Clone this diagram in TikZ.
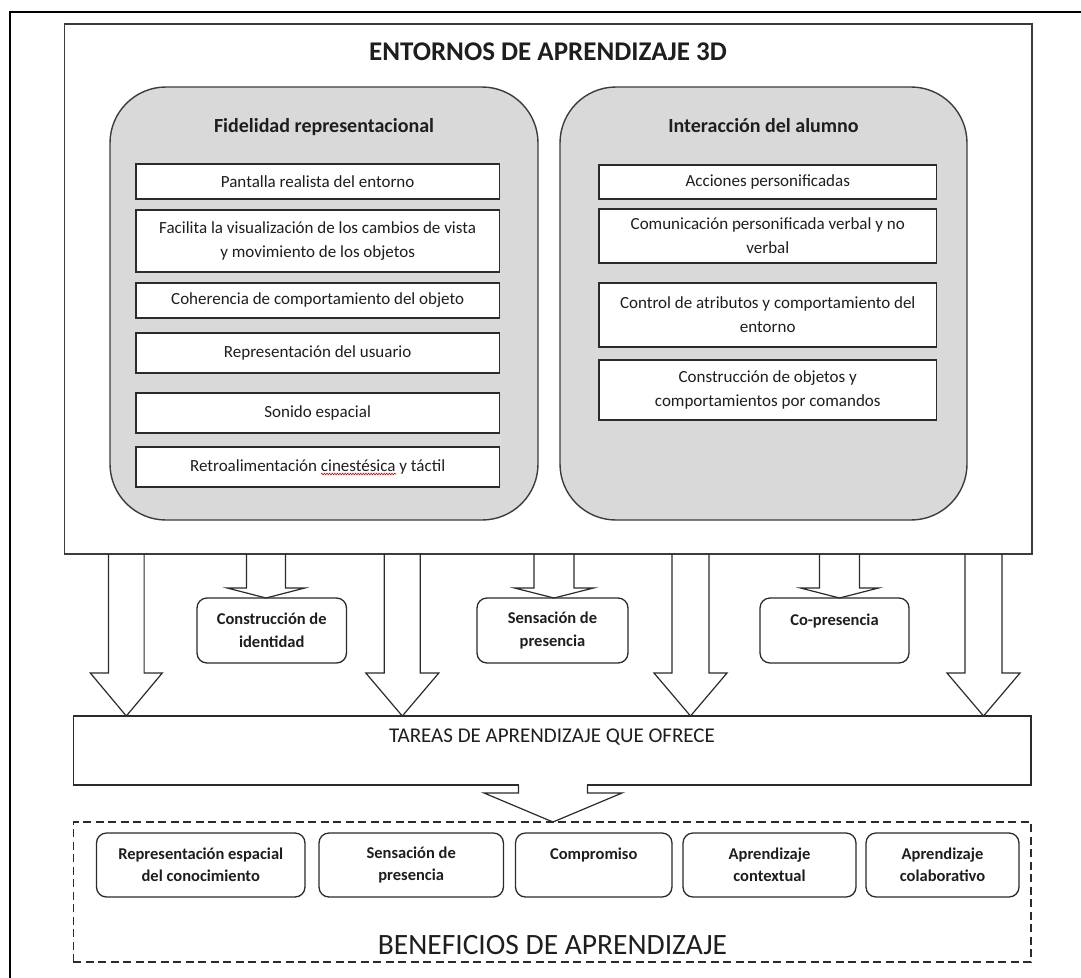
\documentclass[tikz,border=0pt]{standalone}
\usepackage{fontspec}
\setmainfont{Carlito}
\usetikzlibrary{calc,decorations.pathmorphing}
\definecolor{txt}{HTML}{1E1E1E}
\definecolor{bord}{HTML}{2B2B2B}
\definecolor{panelfill}{HTML}{D9D9D9}
\definecolor{panelbord}{HTML}{3C3C3C}
\newcommand{\blkarrow}[7][]{%
  \path[arrowline,#1] let \p1=(#3.south), \p2=(#4.north) in
    (#2-#5,\y1) -- (#2-#5,\y2+#7pt) -- (#2-#6,\y2+#7pt) -- (#2,\y2) --
    (#2+#6,\y2+#7pt) -- (#2+#5,\y2+#7pt) -- (#2+#5,\y1);}
\tikzset{
  boxtxt/.style={font=\fontsize{17}{24}\selectfont, text=txt},
  basebox/.style={inner sep=0pt, outer sep=0pt, anchor=north west, align=center},
  mainbox/.style={basebox, draw=panelbord, line width=1.4pt, fill=white},
  panel/.style={basebox, draw=panelbord, line width=1.4pt, fill=panelfill, rounded corners=56pt},
  wbox/.style={basebox, boxtxt, draw=bord, line width=1.5pt, fill=white},
  sbox/.style={basebox, draw=bord, line width=1.3pt, fill=white, rounded corners=10pt,
    font=\bfseries\fontsize{16.5}{22.5}\selectfont, text=txt},
  dbox/.style={basebox, draw=bord, line width=1.2pt, dash pattern=on 8pt off 4.5pt},
  headtxt/.style={font=\bfseries\fontsize{20}{24}\selectfont, text=txt},
  arrowline/.style={draw=bord, line width=1.2pt, line join=miter},
}
\begin{document}
\begin{tikzpicture}[x=1pt, y=-1pt]
\useasboundingbox (0,0) rectangle (1081,977);
\clip (0,0) rectangle (1081,977);
\fill[white] (0,0) rectangle (1081,977);
% outer frame (continues beyond the picture)
\draw[line width=2.6pt, black] (10,995) -- (10,12) -- (1100,12);

% main box
\node[mainbox, minimum width=967.5, minimum height=530] (main) at (64.5,24) {};
\node[font=\bfseries\fontsize{27}{31}\selectfont, text=txt] (title) at (548,52) {ENTORNOS DE APRENDIZAJE 3D};

% panels
\node[panel, minimum width=428, minimum height=433] (pl) at (110,87) {};
\node[panel, minimum width=407, minimum height=433] (pr) at (560,87) {};
\node[headtxt] (hl) at (324,127) {Fidelidad representacional};
\node[headtxt] (hr) at (763.5,126) {Interacción del alumno};

% left boxes
\node[wbox, minimum width=363.3, minimum height=35] (l1) at (136,164) {Pantalla realista del entorno};
\node[wbox, minimum width=363.3, minimum height=62] (l2) at (136,210) {Facilita la visualización de los cambios de vista\\y movimiento de los objetos};
\node[wbox, minimum width=363.3, minimum height=35] (l3) at (136,283) {Coherencia de comportamiento del objeto};
\node[wbox, minimum width=363.3, minimum height=40] (l4) at (136,333) {Representación del usuario};
\node[wbox, minimum width=363.3, minimum height=40] (l5) at (136,393) {Sonido espacial};
\node[wbox, minimum width=363.3, minimum height=40] (l6) at (136,447) {Retroalimentación cinestésica y táctil};
\draw[red!85!black, line width=0.6pt, decorate, decoration={snake, amplitude=0.8pt, segment length=2.6pt}] (321,474) -- (396,474);

% right boxes
\node[wbox, minimum width=337.5, minimum height=34] (r1) at (599,165) {Acciones personificadas};
\node[wbox, minimum width=337.5, minimum height=54] (r2) at (599,209) {Comunicación personificada verbal y no\\verbal};
\node[wbox, minimum width=337.5, minimum height=64] (r3) at (599,283) {Control de atributos y comportamiento del\\entorno};
\node[wbox, minimum width=337.5, minimum height=60] (r4) at (599,360) {Construcción de objetos y\\comportamientos por comandos};

% middle boxes
\node[sbox, minimum width=149.5, minimum height=65] (m1) at (197,598) {Construcción de\\identidad};
\node[sbox, minimum width=151, minimum height=65] (m2) at (477,598) {Sensación de\\presencia};
\node[sbox, minimum width=149, minimum height=65] (m3) at (760,598) {Co-presencia\\\mbox{}};

% tasks box
\node[mainbox, draw=bord, line width=1.3pt, minimum width=957.6, minimum height=69] (tareas) at (73.4,716) {};
\node[font=\fontsize{21}{25}\selectfont, text=txt] (tareastxt) at (552,737) {TAREAS DE APRENDIZAJE QUE OFRECE};

% benefits
\node[dbox, minimum width=957.6, minimum height=140] (benef) at (73.4,822) {};
\node[font=\fontsize{29.5}{34}\selectfont, text=txt] (beneftxt) at (552.5,945) {BENEFICIOS DE APRENDIZAJE};
\node[sbox, minimum width=208.5, minimum height=64] (b1) at (96.5,833) {Representación espacial\\del conocimiento};
\node[sbox, minimum width=184.4, minimum height=64] (b2) at (319,833) {Sensación de\\presencia};
\node[sbox, minimum width=156.5, minimum height=64] (b3) at (515.5,833) {Compromiso\\\mbox{}};
\node[sbox, minimum width=173, minimum height=64] (b4) at (683,833) {Aprendizaje\\contextual};
\node[sbox, minimum width=153, minimum height=64] (b5) at (866,833) {Aprendizaje\\colaborativo};

% block arrows
\blkarrow{126.3}{main}{tareas}{17.8}{36}{43}
\blkarrow{266}{main}{m1}{19.5}{38.8}{10}
\blkarrow{402.3}{main}{tareas}{18}{36.5}{43}
\blkarrow{554}{main}{m2}{20}{39.5}{10}
\blkarrow{690.5}{main}{tareas}{18.5}{36.5}{43}
\blkarrow{839.5}{main}{m3}{20}{39}{10}
\blkarrow{983.5}{main}{tareas}{18.5}{36.5}{43}
% callout arrow from tasks to benefits
\fill[white] let \p1=(tareas.south) in (553-34,\y1+1.2pt) rectangle (553+34,\y1-3pt);
\blkarrow{553}{tareas}{benef}{34.5}{69}{29}
\end{tikzpicture}
\end{document}
